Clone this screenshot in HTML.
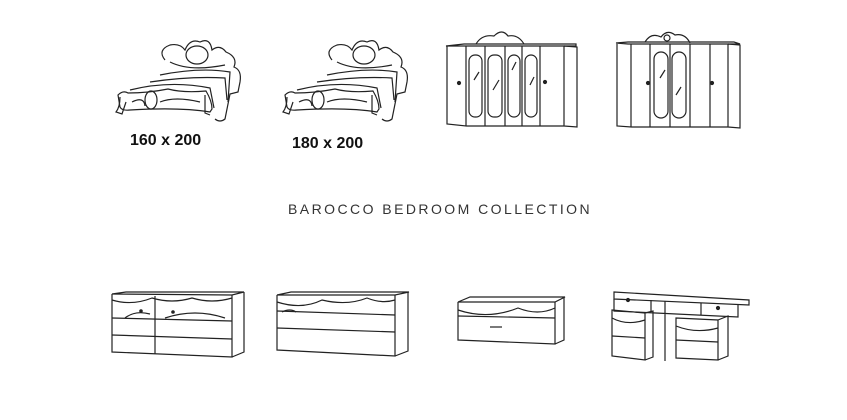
<!DOCTYPE html>
<html><head><style>
body{margin:0;width:847px;height:420px;background:#fff;overflow:hidden;position:relative;font-family:"Liberation Sans",sans-serif}
svg{position:absolute;left:0;top:0}
.lbl{position:absolute;font-family:"Liberation Sans",sans-serif;font-weight:bold;font-size:16px;color:#111}
.t{position:absolute;left:288px;top:201px;font-size:14px;letter-spacing:2.45px;color:#333}
</style></head><body>
<svg width="847" height="420" viewBox="0 0 847 420" fill="none" stroke="#222" stroke-width="1.2">
<g id="bed">
<path d="M165 60 q-8 -10 5 -15 q10 -2 15 5 q5 -12 15 -8 q10 -5 12 8 q8 -6 14 2 q12 5 8 15 q8 3 6 15 l-2 10 l-8 2 l-5 25 q-5 4 -10 0"/>
<ellipse cx="197" cy="55" rx="11" ry="9"/>
<path d="M170 62 q20 10 55 3"/>
<path d="M160 75 q40 -8 70 -3 l-2 30"/>
<path d="M150 82 q40 -6 75 -4 l2 22"/>
<path d="M130 90 q40 -10 80 -2 l4 20"/>
<path d="M118 95 q5 -5 10 -2 q20 0 40 -4 q15 4 38 2 q6 10 6 18 l-2 3 q-30 -5 -80 -2 q-8 1 -10 -3z"/>
<path d="M120 97 q0 10 -4 15 l6 2 l4 -12"/>
<ellipse cx="151" cy="100" rx="6" ry="9"/>
<path d="M205 95 l0 18 l5 2"/>
<path d="M132 102 q12 -6 13 4 M160 102 q15 -6 40 0"/>
</g>
<use href="#bed" x="167" y="0"/>
<g>
<path d="M446 46 l18 -2 l112 0 l0 2 l-112 0 z"/>
<path d="M447 46 l0 78 l19 2 l0 -80 M466 126 l98 0 l0 -80 M564 46 l13 1 l0 80 l-13 -1"/>
<path d="M476 44 q6 -10 18 -8 q8 -8 14 0 q10 -2 16 8"/>
<path d="M485 46 l0 80 M505 46 l0 80 M522 46 l0 80 M540 46 l0 80"/>
<rect x="469" y="55" width="13" height="62" rx="6"/>
<rect x="488" y="55" width="14" height="62" rx="6"/>
<rect x="508" y="55" width="12" height="62" rx="6"/>
<rect x="525" y="55" width="12" height="62" rx="6"/>
<path d="M474 80 l5 -8 M493 90 l6 -10 M512 70 l4 -8 M530 85 l4 -8"/>
<circle cx="459" cy="83" r="1.5" fill="#222"/><circle cx="545" cy="82" r="1.5" fill="#222"/>
</g>
<g>
<path d="M616 43 l12 -1 l106 0 l6 2 l-112 0z"/>
<path d="M617 44 l0 82 l14 1 l0 -83 M631 127 l97 0 l0 -83 M728 44 l12 1 l0 83 l-12 -1"/>
<path d="M645 42 q6 -10 16 -5 q6 -8 14 -2 q10 -2 15 8"/>
<circle cx="667" cy="38" r="3"/>
<path d="M650 44 l0 83 M690 44 l0 83 M670 44 l0 83 M710 44 l0 83"/>
<rect x="654" y="52" width="14" height="66" rx="7"/>
<rect x="672" y="52" width="14" height="66" rx="7"/>
<path d="M660 78 l5 -8 M676 95 l5 -8"/>
<circle cx="648" cy="83" r="1.5" fill="#222"/><circle cx="712" cy="83" r="1.5" fill="#222"/>
</g>
<g>
<path d="M112 294 l14 -2 l118 0 l-12 3 z"/>
<path d="M112 294 l0 58 l120 5 l0 -62 M232 357 l12 -5 l0 -60"/>
<path d="M112 300 q20 6 40 -2 q20 6 40 0 q20 6 40 0 M155 296 l0 58"/>
<path d="M112 318 l120 3 M112 335 l120 4"/>
<path d="M125 318 q10 -8 25 -4 M165 318 q30 -10 60 0"/>
<circle cx="141" cy="311" r="1.2" fill="#222"/><circle cx="173" cy="312" r="1.2" fill="#222"/>
</g>
<g>
<path d="M277 295 l14 -3 l118 0 l-14 3 z"/>
<path d="M277 295 l0 55 l118 6 l0 -61 M395 356 l13 -5 l0 -59"/>
<path d="M277 302 q25 8 45 -2 q25 6 45 -2 q15 6 28 2"/>
<path d="M277 311 l118 4 M277 328 l118 4"/>
<path d="M282 312 q8 -4 14 0"/>
</g>
<g>
<path d="M458 302 l12 -5 l95 0 l-10 5 z"/>
<path d="M458 302 l0 38 l97 4 l0 -42 M555 344 l9 -4 l0 -43"/>
<path d="M458 310 q30 10 60 -2 q20 8 37 0 M458 316 l97 2"/>
<path d="M490 327 l12 0"/>
</g>
<g>
<path d="M614 292 l135 8 l0 5 l-135 -6 z"/>
<path d="M614 299 l0 12 l124 6 l0 -12 M651 300 l0 12 M665 301 l0 60 M701 303 l0 12"/>
<path d="M612 310 l33 3 l0 47 l-33 -4 z M645 313 l8 -2 l0 46 l-8 3"/>
<path d="M612 318 q15 8 33 2 M612 336 l33 2"/>
<path d="M676 318 l42 2 l0 40 l-42 -2 z M718 320 l10 -4 l0 40 l-10 4"/>
<path d="M676 326 q20 8 42 2 M676 340 l42 2"/>
<circle cx="628" cy="300" r="1.5" fill="#222"/><circle cx="718" cy="308" r="1.5" fill="#222"/>
</g>
</svg>
<div class="lbl" style="left:130px;top:132px">160 x 200</div>
<div class="lbl" style="left:292px;top:135px">180 x 200</div>
<div class="t">BAROCCO BEDROOM COLLECTION</div>
</body></html>
